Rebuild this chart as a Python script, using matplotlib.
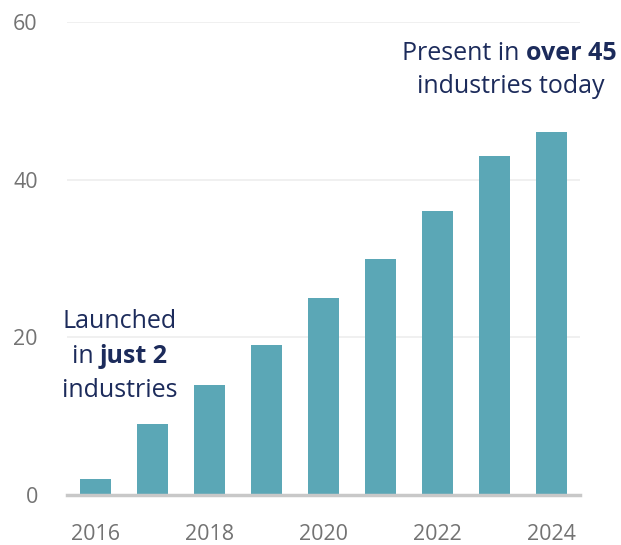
import matplotlib
matplotlib.use("Agg")
import matplotlib.pyplot as plt

years = [2016, 2017, 2018, 2019, 2020, 2021, 2022, 2023, 2024]
industries = [2, 9, 14, 19, 25, 30, 36, 43, 46]
y_ticks = [0, 20, 40, 60]
x_ticks = [2016, 2018, 2020, 2022, 2024]

BAR = "#5ba7b6"
NAVY = "#1c2b5b"
GREY = "#737373"
FONT = "Open Sans"

W, H = 621, 545
fig = plt.figure(figsize=(W / 100, H / 100), dpi=100)
ax = fig.add_axes([67 / W, 1 - 495 / H, (580 - 67) / W, (495 - 22) / H])

ax.bar(years, industries, width=0.56, color=BAR, zorder=3)
ax.set_xlim(2015.5, 2024.5)
ax.set_ylim(0, 60)
ax.set_yticks(y_ticks)
ax.set_xticks(x_ticks)
ax.set_yticklabels([str(v) for v in y_ticks], fontsize=15.5, color=GREY, family=FONT)
ax.set_xticklabels([str(v) for v in x_ticks], fontsize=15.5, color=GREY, family=FONT)
ax.tick_params(axis="y", length=0, pad=21)
ax.tick_params(axis="x", length=0, pad=21)
ax.grid(axis="y", color="#eeeeee", linewidth=1.2, zorder=0)
for s in ["top", "right", "left"]:
    ax.spines[s].set_visible(False)
ax.spines["bottom"].set_color("#c8c8c8")
ax.spines["bottom"].set_linewidth(2.5)
ax.spines["bottom"].set_zorder(4)

renderer = fig.canvas.get_renderer()


def mixed_line(parts, cx, baseline, size=18):
    """Draw a line made of (text, weight) parts centred at cx (pixels)."""
    texts = []
    for s, w in parts:
        t = fig.text(0, 0, s, fontsize=size, fontweight=w, color=NAVY,
                     family=FONT, va="baseline", ha="left")
        texts.append(t)
    widths = [t.get_window_extent(renderer).width for t in texts]
    x = cx - sum(widths) / 2
    for t, wd in zip(texts, widths):
        t.set_position((x / W, 1 - baseline / H))
        x += wd


mixed_line([("Launched", "normal")], 120, 328)
mixed_line([("in ", "normal"), ("just 2", "bold")], 120, 363)
mixed_line([("industries", "normal")], 120, 397)

mixed_line([("Present in ", "normal"), ("over 45", "bold")], 509, 60)
mixed_line([("industries today", "normal")], 511, 93)

fig.savefig("out.png", dpi=100)
